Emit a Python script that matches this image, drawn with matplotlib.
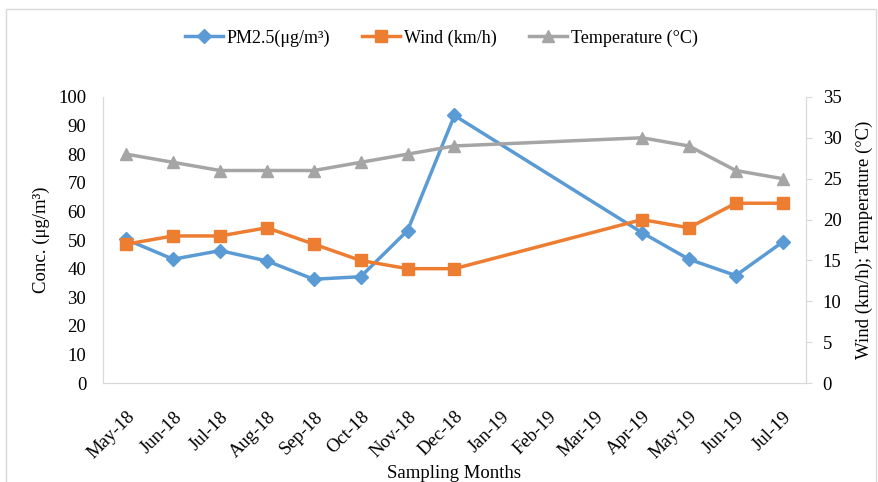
import numpy as np
import matplotlib.pyplot as plt
from matplotlib.patches import Rectangle

# datos (ene-mar 19 sin muestreo)
months = ['May-18', 'Jun-18', 'Jul-18', 'Aug-18', 'Sep-18', 'Oct-18', 'Nov-18', 'Dec-18',
          'Jan-19', 'Feb-19', 'Mar-19', 'Apr-19', 'May-19', 'Jun-19', 'Jul-19']
pm25 = [50.2, 43.3, 46.3, 42.7, 36.3, 37.2, 53.3, 93.5, None, None, None, 52.6, 43.3, 37.6, 49.3]
wind = [17, 18, 18, 19, 17, 15, 14, 14, None, None, None, 20, 19, 22, 22]
temp = [28, 27, 26, 26, 26, 27, 28, 29, None, None, None, 30, 29, 26, 25]

plt.rcParams['font.family'] = ['Liberation Serif', 'DejaVu Serif']

def valid(vals):
    x = [i for i, v in enumerate(vals) if v is not None]
    y = [v for v in vals if v is not None]
    return x, y

fig = plt.figure(figsize=(8.79, 4.82), dpi=100)
ax = fig.add_axes([0.117, 0.205, 0.8, 0.594])
ax2 = ax.twinx()

x, y = valid(pm25)
l1, = ax.plot(x, y, color='#5B9BD5', lw=2.5, marker='D', ms=7, label='PM2.5(μg/m³)')
x, y = valid(wind)
l2, = ax2.plot(x, y, color='#ED7D31', lw=2.5, marker='s', ms=9, label='Wind (km/h)')
x, y = valid(temp)
l3, = ax2.plot(x, y, color='#A5A5A5', lw=2.5, marker='^', ms=9, label='Temperature (°C)')

ax.set_xlim(-0.5, len(months) - 0.5)
ax.set_ylim(0, 100)
ax.set_yticks(np.arange(0, 101, 10))
ax2.set_ylim(0, 35)
ax2.set_yticks(np.arange(0, 36, 5))
ax.set_xticks(range(len(months)))
ax.set_xticklabels(months, rotation=45, ha='right', va='top', rotation_mode='anchor', fontsize=13.5)

for a in (ax, ax2):
    for s in a.spines.values():
        s.set_color('#D9D9D9')
    a.spines['top'].set_visible(False)
    a.tick_params(axis='y', labelsize=13.5, colors='#D9D9D9', labelcolor='black')
ax.tick_params(axis='y', length=0, pad=12)
ax.tick_params(axis='x', length=0, pad=18)
ax2.tick_params(axis='y', length=4, pad=8)

ax.set_ylabel('Conc. (μg/m³)', fontsize=13.5, labelpad=6)
ax2.set_ylabel('Wind (km/h); Temperature (°C)', fontsize=13.5, labelpad=10)
ax.set_xlabel('Sampling Months', fontsize=13.5)
ax.xaxis.set_label_coords(0.5, -0.315)
ax.xaxis.label.set_va('center')

fig.legend(handles=[l1, l2, l3], loc='center', bbox_to_anchor=(0.502, 0.921), ncol=3,
           frameon=False, fontsize=13, handlelength=2.1, columnspacing=1.8, handletextpad=0.2)

fig.patches.append(Rectangle((0.007, -0.1), 0.99, 1.082, transform=fig.transFigure,
                             fill=False, edgecolor='#D9D9D9', lw=1))

fig.savefig('out.png', dpi=100)
